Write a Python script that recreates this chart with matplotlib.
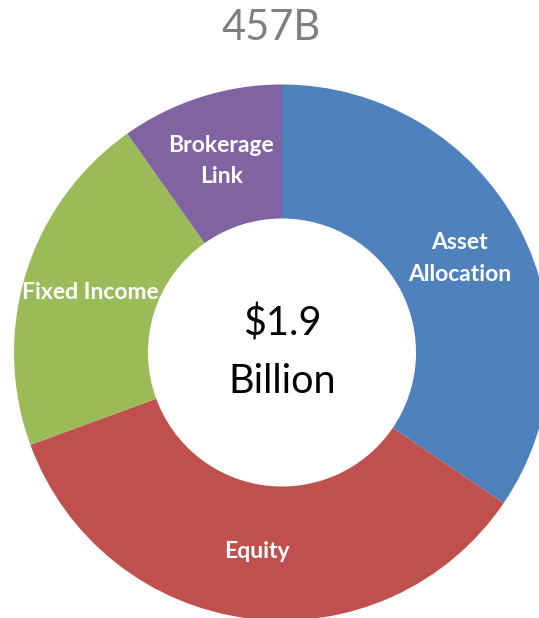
import numpy as np
import matplotlib
matplotlib.use("Agg")
import matplotlib.pyplot as plt

# 457B plan assets by category (share of $1.9 billion, %)
categories = ["Asset\nAllocation", "Equity", "Fixed Income", "Brokerage\nLink"]
shares = [34.5, 34.9, 20.8, 9.8]
colors = ["#4F81BD", "#C0504D", "#9BBB59", "#8064A2"]
title = "457B"
center_text = "$1.9\nBillion"

W, H = 539, 618
fig = plt.figure(figsize=(W / 100, H / 100), dpi=100)
ax = fig.add_axes([0, 0, 1, 1])

# axes work in pixel units, ring is cut off at the right edge like the original
cx, cy = 282, H - 352.5
r_out = 268
ring = 134  # ring width in pixels

wedges, _ = ax.pie(shares, colors=colors, startangle=90, counterclock=False,
                   radius=r_out, center=(cx, cy), frame=True,
                   wedgeprops=dict(width=ring, linewidth=0))
ax.set_xlim(0, W)
ax.set_ylim(0, H)
ax.set_aspect("auto")
ax.axis("off")

# labels in the middle of the ring
r_mid = r_out - ring / 2
for w, lab in zip(wedges, categories):
    ang = np.deg2rad((w.theta1 + w.theta2) / 2)
    ax.text(cx + r_mid * np.cos(ang), cy + r_mid * np.sin(ang), lab,
            ha="center", va="center", color="white", fontsize=16.5,
            fontweight="bold", family="Lato", linespacing=1.6)

ax.text(cx, cy, center_text, ha="center", va="center", fontsize=28.5,
        family="Lato", color="black", linespacing=1.68)

ax.text(271, H - 28, title, ha="center", va="center", fontsize=30,
        family="Lato", color="#7F7F7F")

fig.savefig("out.png", dpi=100)
